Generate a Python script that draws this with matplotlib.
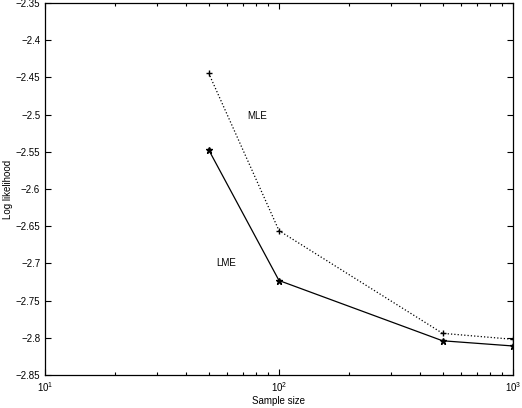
import matplotlib
matplotlib.use("Agg")
import matplotlib.pyplot as plt
from matplotlib.ticker import FixedLocator, FuncFormatter, LogLocator, NullFormatter

plt.rcParams['font.family'] = ['Liberation Sans', 'DejaVu Sans']

sample_sizes = [50, 100, 500, 1000]
mle = [-2.444, -2.656, -2.794, -2.802]
lme = [-2.547, -2.723, -2.804, -2.811]
y_ticks = [-2.35, -2.4, -2.45, -2.5, -2.55, -2.6, -2.65, -2.7, -2.75, -2.8, -2.85]

fig = plt.figure(figsize=(5.22, 4.08), dpi=100)
ax = fig.add_axes([45/522, 1-375/408, (513-45)/522, (375-3)/408])

ax.plot(sample_sizes, mle, color='black', linestyle=':', linewidth=0.9,
        marker='+', markersize=5, markeredgewidth=1.0)
ax.plot(sample_sizes, lme, color='black', linestyle='-', linewidth=0.9,
        marker='*', markersize=4.5)

ax.set_xscale('log')
ax.set_xlim(10, 1000)
ax.set_ylim(-2.85, -2.35)
ax.yaxis.set_major_locator(FixedLocator(y_ticks))
ax.yaxis.set_major_formatter(FuncFormatter(lambda v, p: ('%g' % v).replace('-', '\u2212')))
ax.xaxis.set_major_locator(LogLocator(base=10))
ax.xaxis.set_minor_locator(LogLocator(base=10, subs=range(2, 10)))
ax.xaxis.set_minor_formatter(NullFormatter())

ax.tick_params(which='both', direction='in', top=True, right=True, labelsize=7, width=0.8)
ax.tick_params(which='major', length=4)
ax.tick_params(which='minor', length=2)
for s in ax.spines.values():
    s.set_linewidth(0.9)

ax.text(80.5, -2.502, 'MLE', fontsize=7, ha='center', va='center')
ax.text(59.4, -2.700, 'LME', fontsize=7, ha='center', va='center')

ax.set_xlabel('Sample size', fontsize=7, labelpad=2)
ax.set_ylabel('Log likelihood', fontsize=7, labelpad=2)

fig.savefig('out.png', dpi=100)
